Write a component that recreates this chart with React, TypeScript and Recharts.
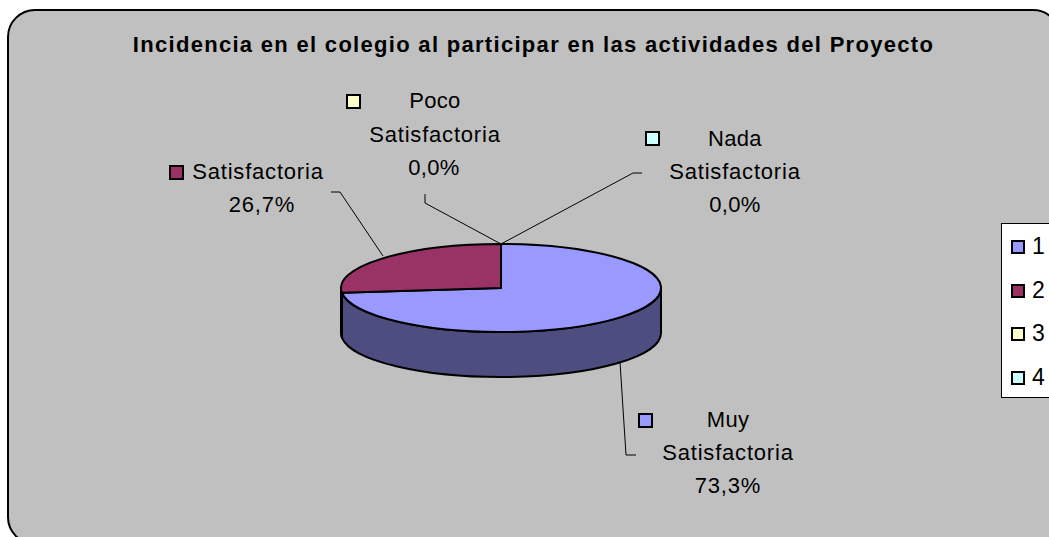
import { PieChart, Pie, Cell, Legend } from "recharts"

const categories = ["Muy Satisfactoria", "Satisfactoria", "Poco Satisfactoria", "Nada Satisfactoria"]
const legendNames = ["1", "2", "3", "4"]
const percents = [73.3, 26.7, 0, 0]
const percentLabels = ["73,3%", "26,7%", "0,0%", "0,0%"]

const colors = ["#9999FF", "#993366", "#FFFFCC", "#CCFFFF"]
const sideColors = ["#4D4D80", "#4D1A33", "#808066", "#668080"]

const chartData = categories.map((c, i) => ({ name: legendNames[i], category: c, value: percents[i] }))

const FONT = '"Liberation Sans", Arial, sans-serif'
const SQUASH = 44 / 160
const DEPTH = 45

// hand placed like the original office chart
const labelBoxes = [
    { lines: ["Muy", "Satisfactoria"], x: 728, y: 427, step: 33, pctShift: 0, key: [639, 414], line: "M620 362 L626 455 L636 455" },
    { lines: ["Satisfactoria"], x: 258, y: 179, step: 33, pctShift: 4, key: [170, 166], line: "M383 256 L340 192 L331 192" },
    { lines: ["Poco", "Satisfactoria"], x: 435, y: 108, step: 33.5, pctShift: -1, key: [347, 95], line: "M501 244 L425 203 L425 194" },
    { lines: ["Nada", "Satisfactoria"], x: 735, y: 146, step: 33, pctShift: 0, key: [646, 132], line: "M501 244 L633 173 L642 173" },
]

const pt = (cx: number, cy: number, r: number, deg: number) => {
    const a = (deg * Math.PI) / 180
    return [cx + r * Math.cos(a), cy - r * SQUASH * Math.sin(a)]
}

const Slice3D = (props: any) => {
    const { cx, cy, outerRadius: r, startAngle, endAngle, index } = props
    if (Math.abs(startAngle - endAngle) < 0.01) return null
    const ry = r * SQUASH
    const [x1, y1] = pt(cx, cy, r, startAngle)
    const [x2, y2] = pt(cx, cy, r, endAngle)
    const large = Math.abs(startAngle - endAngle) > 180 ? 1 : 0

    // front wall only where the slice crosses the lower half of the ellipse
    const from = Math.min(startAngle, 0)
    const to = Math.max(endAngle, -180)
    let wall = null
    if (from > to) {
        const [a1, b1] = pt(cx, cy, r, from)
        const [a2, b2] = pt(cx, cy, r, to)
        wall = `M${a1} ${b1} A${r} ${ry} 0 0 1 ${a2} ${b2} L${a2} ${b2 + DEPTH} A${r} ${ry} 0 0 0 ${a1} ${b1 + DEPTH} Z`
    }

    return (
        <g>
            {wall && <path d={wall} fill={sideColors[index]} stroke="#000" strokeWidth={2} strokeLinejoin="round" />}
            <path
                d={`M${cx} ${cy} L${x1} ${y1} A${r} ${ry} 0 ${large} 1 ${x2} ${y2} Z`}
                fill={colors[index]}
                stroke="#000"
                strokeWidth={2}
                strokeLinejoin="round"
            />
        </g>
    )
}

const LeaderLine = (props: any) => (
    <path d={labelBoxes[props.index].line} fill="none" stroke="#000" strokeWidth={1} />
)

const SliceLabel = (props: any) => {
    const { index } = props
    const box = labelBoxes[index]
    const rows = [...box.lines, percentLabels[index]]
    return (
        <g>
            <rect x={box.key[0]} y={box.key[1]} width={13} height={13} fill={colors[index]} stroke="#000" strokeWidth={2} />
            {rows.map((t, i) => (
                <text
                    key={i}
                    x={box.x + (i === rows.length - 1 ? box.pctShift : 0)}
                    y={box.y + i * box.step}
                    textAnchor="middle"
                    fontFamily={FONT}
                    fontSize={22}
                    letterSpacing={t.length <= 4 ? 0.3 : 0.8}
                    fill="#000"
                >
                    {t}
                </text>
            ))}
        </g>
    )
}

const LegendBox = ({ payload }: any) => (
    <div style={{ width: 60, height: 175, background: "#fff", border: "1px solid #000", boxSizing: "border-box", paddingTop: 1, fontFamily: FONT, fontSize: 23, lineHeight: "43.7px" }}>
        {(payload || []).map((p: any, i: number) => (
            <div key={i} style={{ display: "flex", alignItems: "center", paddingLeft: 9 }}>
                <span style={{ width: 10, height: 10, background: colors[i], border: "2px solid #000", marginRight: 7, display: "inline-block" }} />
                <span>{p.value}</span>
            </div>
        ))}
    </div>
)

export default function App() {
    return (
        <div style={{ position: "absolute", left: 0, top: 0, width: 1049, height: 537, overflow: "hidden" }}>
            <div style={{ position: "absolute", left: 7, top: 9, width: 1050, height: 532, background: "#C0C0C0", border: "2px solid #000", borderRadius: 28 }} />
            <div style={{ position: "absolute", left: 0, top: 0 }}>
                <PieChart width={1049} height={537} margin={{ top: 0, right: 0, bottom: 0, left: 0 }}>
                    <text x={533.5} y={52} textAnchor="middle" fontFamily={FONT} fontWeight="bold" fontSize={22} letterSpacing={1.3} fill="#000">
                        Incidencia en el colegio al participar en las actividades del Proyecto
                    </text>
                    <Pie
                        data={chartData}
                        dataKey="value"
                        nameKey="name"
                        cx={501}
                        cy={288}
                        outerRadius={160}
                        startAngle={90}
                        endAngle={-270}
                        stroke="#000"
                        shape={Slice3D}
                        label={SliceLabel}
                        labelLine={LeaderLine}
                        isAnimationActive={false}
                    >
                        {chartData.map((d, i) => (
                            <Cell key={d.name} fill={colors[i]} />
                        ))}
                    </Pie>
                    <Legend
                        layout="vertical"
                        align="right"
                        verticalAlign="top"
                        content={LegendBox}
                        wrapperStyle={{ left: 1001, top: 223, width: 60, right: "auto", bottom: "auto" }}
                    />
                </PieChart>
            </div>
        </div>
    )
}
